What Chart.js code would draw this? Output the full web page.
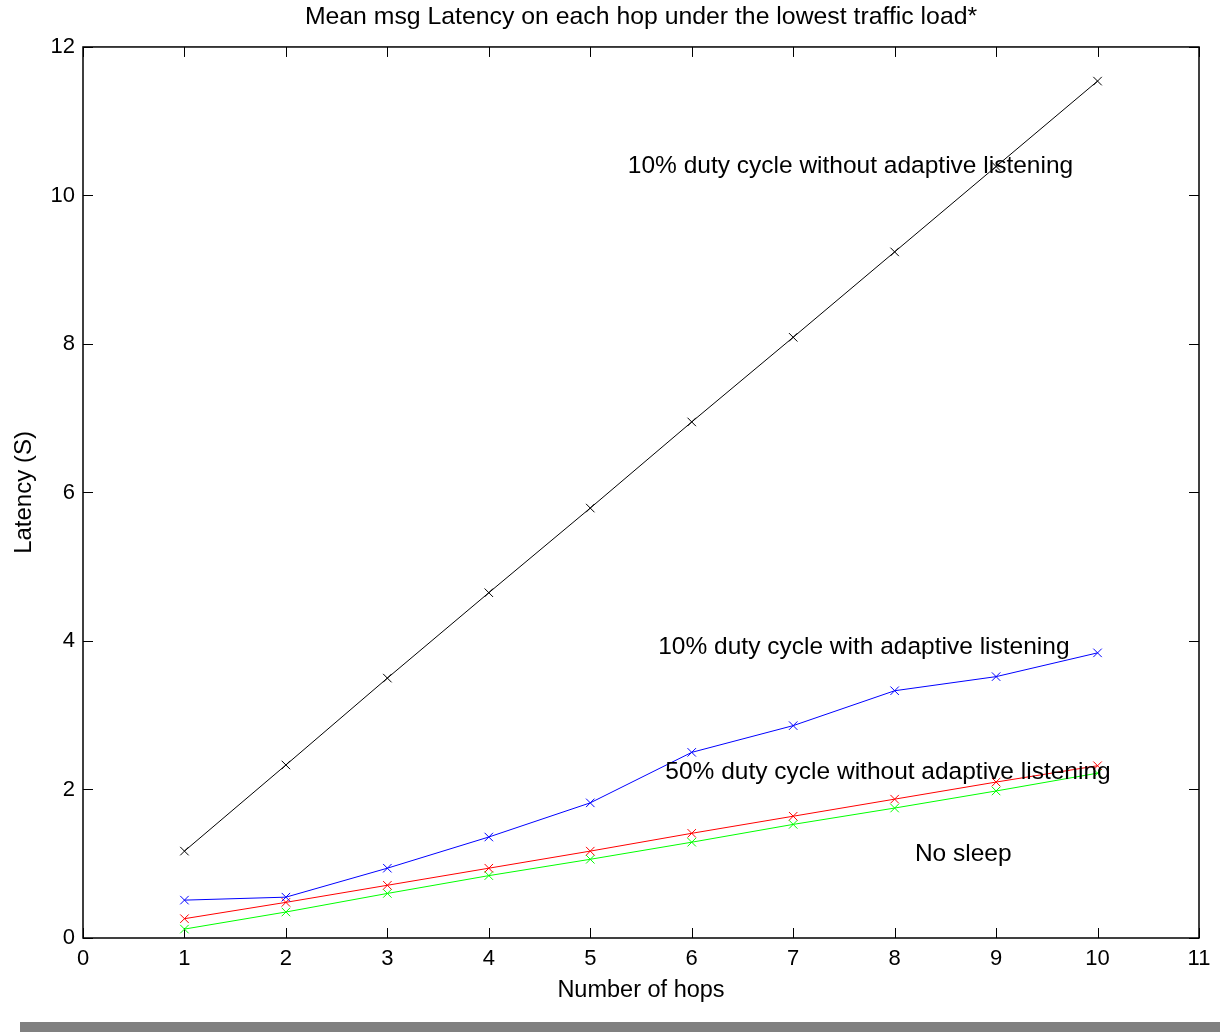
<!DOCTYPE html>
<html>
<head>
<meta charset="utf-8">
<script src="https://cdn.jsdelivr.net/npm/chart.js@4.4.1/dist/chart.umd.min.js"></script>
<style>
  body { margin: 0; background: #fff; }
  #wrap { width: 1220px; height: 1022px; }
  #bar { margin-left: 20px; width: 1200px; height: 10px; background: #808080; }
</style>
</head>
<body>
<div id="wrap"><canvas id="latencyChart" width="1220" height="1022"></canvas></div>
<div id="bar"></div>
<script>
// hops on the x axis
const hops = [1, 2, 3, 4, 5, 6, 7, 8, 9, 10];

// mean latency (s) per hop count
const duty10NoAdaptive = [1.17, 2.33, 3.50, 4.65, 5.79, 6.95, 8.09, 9.24, 10.39, 11.54];
const duty10Adaptive   = [0.51, 0.55, 0.94, 1.36, 1.82, 2.50, 2.86, 3.33, 3.52, 3.84];
const duty50NoAdaptive = [0.26, 0.48, 0.71, 0.94, 1.17, 1.41, 1.64, 1.87, 2.10, 2.32];
const noSleep          = [0.12, 0.35, 0.60, 0.84, 1.06, 1.29, 1.53, 1.75, 1.98, 2.22];

const seriesLabels = [
    '10% duty cycle without adaptive listening',
    '10% duty cycle with adaptive listening',
    '50% duty cycle without adaptive listening',
    'No sleep'
];
const seriesColors = ['#000000', '#0000ff', '#ff0000', '#00ff00'];

// text labels placed inside the axes (data coords of the left/middle of the text)
const noteX = [5.37, 5.67, 5.74, 8.20];
const noteY = [10.39, 3.92, 2.23, 1.13];

const FONT = "'Liberation Sans', Arial, Helvetica, sans-serif";

const toPoints = vals => vals.map((v, i) => ({ x: hops[i], y: v }));

// box around the axes with inward tick marks, like matlab
const frame = {
    id: 'frame',
    beforeDatasetsDraw(chart) {
        const { ctx, chartArea: a, scales: { x, y } } = chart;
        const len = 10;
        ctx.save();
        ctx.strokeStyle = '#000';
        ctx.lineWidth = 1;
        ctx.beginPath();
        x.ticks.forEach(t => {
            const px = Math.round(x.getPixelForValue(t.value)) + 0.5;
            ctx.moveTo(px, a.bottom); ctx.lineTo(px, a.bottom - len);
            ctx.moveTo(px, a.top); ctx.lineTo(px, a.top + len);
        });
        y.ticks.forEach(t => {
            const py = Math.round(y.getPixelForValue(t.value)) + 0.5;
            ctx.moveTo(a.left, py); ctx.lineTo(a.left + len, py);
            ctx.moveTo(a.right, py); ctx.lineTo(a.right - len, py);
        });
        ctx.stroke();
        ctx.lineWidth = 1.5;
        ctx.strokeRect(a.left, a.top, a.right - a.left, a.bottom - a.top);
        ctx.restore();
    },
    afterDatasetsDraw(chart) {
        const { ctx, scales: { x, y } } = chart;
        ctx.save();
        ctx.fillStyle = '#000';
        ctx.font = '24.5px ' + FONT;
        ctx.textAlign = 'left';
        ctx.textBaseline = 'middle';
        seriesLabels.forEach((txt, i) => {
            ctx.fillText(txt, x.getPixelForValue(noteX[i]), y.getPixelForValue(noteY[i]));
        });
        ctx.restore();
    }
};

const ctx = document.getElementById('latencyChart').getContext('2d');
const latencyChart = new Chart(ctx, {
    type: 'line',
    data: {
        datasets: [duty10NoAdaptive, duty10Adaptive, duty50NoAdaptive, noSleep].map((vals, i) => ({
            label: seriesLabels[i],
            data: toPoints(vals),
            borderColor: seriesColors[i],
            backgroundColor: seriesColors[i],
            borderWidth: 1,
            pointStyle: 'crossRot',
            pointRadius: 6,
            pointBorderWidth: 1,
            fill: false,
            tension: 0
        }))
    },
    options: {
        responsive: false,
        animation: false,
        layout: { padding: { left: 0, right: 21, top: 0, bottom: 0 } },
        plugins: {
            legend: { display: false },
            tooltip: { enabled: false },
            title: {
                display: true,
                fullSize: false,
                text: 'Mean msg Latency on each hop under the lowest traffic load*',
                color: '#000',
                font: { family: FONT, size: 24.8, weight: 'normal' },
                padding: { top: 2.5, bottom: 14.7 }
            }
        },
        scales: {
            x: {
                type: 'linear',
                min: 0,
                max: 11,
                ticks: { stepSize: 1, color: '#000', padding: 8, font: { family: FONT, size: 22 } },
                grid: { display: false, drawTicks: false },
                border: { display: false },
                title: { display: true, text: 'Number of hops', color: '#000', padding: { top: 4, bottom: 17 }, font: { family: FONT, size: 23.5 } },
                afterFit: s => { s.height = 84; }
            },
            y: {
                min: 0,
                max: 12,
                ticks: { stepSize: 2, color: '#000', padding: 8, font: { family: FONT, size: 22 } },
                grid: { display: false, drawTicks: false },
                border: { display: false },
                title: { display: true, text: 'Latency (S)', color: '#000', padding: { top: 10, bottom: 0 }, font: { family: FONT, size: 24 } },
                afterFit: s => { s.width = 83; }
            }
        }
    },
    plugins: [frame]
});
</script>
</body>
</html>
